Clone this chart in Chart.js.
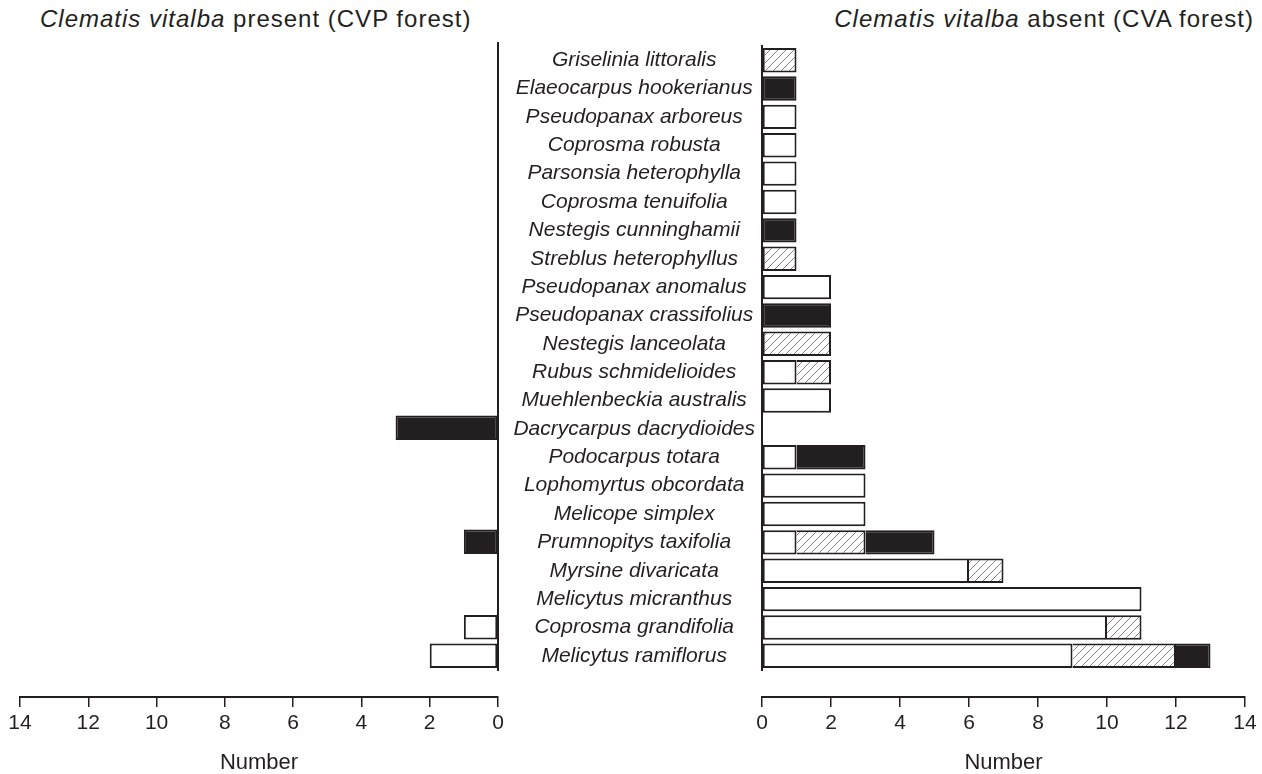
<!DOCTYPE html>
<html>
<head>
<meta charset="utf-8">
<script src="https://cdn.jsdelivr.net/npm/chart.js@4.4.1/dist/chart.umd.min.js"></script>
<style>
  body{ margin:0; background:#fff; width:1262px; height:774px; overflow:hidden; position:relative; font-family:"Liberation Sans", Arial, sans-serif; color:#231f20; }
  canvas{ position:absolute; top:0; }
  .ttl{ position:absolute; top:5px; font-size:24px; letter-spacing:1px; white-space:nowrap; line-height:28px; }
</style>
</head>
<body>
<div class="ttl" style="left:40px"><i>Clematis vitalba</i> present (CVP forest)</div>
<div class="ttl" style="right:8px"><i>Clematis vitalba</i> absent (CVA forest)</div>
<canvas id="cvpChart" width="520" height="774" style="left:0;width:520px;height:774px"></canvas>
<canvas id="cvaChart" width="762" height="774" style="left:500px;width:762px;height:774px"></canvas>
<script>
/* ========= DATA ========= */
const SPECIES = [
  "Griselinia littoralis","Elaeocarpus hookerianus","Pseudopanax arboreus","Coprosma robusta",
  "Parsonsia heterophylla","Coprosma tenuifolia","Nestegis cunninghamii","Streblus heterophyllus",
  "Pseudopanax anomalus","Pseudopanax crassifolius","Nestegis lanceolata","Rubus schmidelioides",
  "Muehlenbeckia australis","Dacrycarpus dacrydioides","Podocarpus totara","Lophomyrtus obcordata",
  "Melicope simplex","Prumnopitys taxifolia","Myrsine divaricata","Melicytus micranthus",
  "Coprosma grandifolia","Melicytus ramiflorus"
];

// CVP forest (left panel)
const cvpOpen    = [0,0,0,0,0,0,0,0,0,0,0,0,0,0,0,0,0,0,0,0,1,2];
const cvpHatched = [0,0,0,0,0,0,0,0,0,0,0,0,0,0,0,0,0,0,0,0,0,0];
const cvpSolid   = [0,0,0,0,0,0,0,0,0,0,0,0,0,3,0,0,0,1,0,0,0,0];

// CVA forest (right panel)
const cvaOpen    = [0,0,1,1,1,1,0,0,2,0,0,1,2,0,1,3,3,1,6,11,10,9];
const cvaHatched = [1,0,0,0,0,0,0,1,0,0,2,1,0,0,0,0,0,2,1,0,1,3];
const cvaSolid   = [0,1,0,0,0,0,1,0,0,2,0,0,0,0,2,0,0,2,0,0,0,1];

const X_MIN = 0, X_MAX = 14, X_STEP = 2;

/* ========= STYLE ========= */
const INK = "#231f20";
const FONT = "'Liberation Sans', Arial, sans-serif";

function hatchPattern(){
  const c = document.createElement("canvas");
  c.width = 8; c.height = 8;
  const g = c.getContext("2d");
  g.fillStyle = "#fff"; g.fillRect(0,0,8,8);
  g.strokeStyle = "#808080"; g.lineWidth = 1;
  g.beginPath();
  g.moveTo(0,8); g.lineTo(8,0);
  g.moveTo(-2,2); g.lineTo(2,-2);
  g.moveTo(6,10); g.lineTo(10,6);
  g.stroke();
  return g.createPattern(c,"repeat");
}
const HATCH = hatchPattern();

// where two segments of one bar meet, only the earlier one draws the divider
function segBorder(ctx){
  const i = ctx.dataIndex, d = ctx.datasetIndex;
  const before = ctx.chart.data.datasets.slice(0,d).some(ds=>ds.data[i]>0);
  return {top:2, bottom:2, left:before?0:2, right:2};
}

function datasets(open, hatched, solid){
  const base = {borderColor:INK, borderWidth:segBorder, borderSkipped:false,
                categoryPercentage:0.86, barPercentage:1};
  return [
    {...base, data:open,    backgroundColor:"#fff"},
    {...base, data:hatched, backgroundColor:HATCH},
    {...base, data:solid,   backgroundColor:INK}
  ];
}

function xScale(reverse){
  return {
    type:"linear", stacked:true, min:X_MIN, max:X_MAX, reverse, weight:1,
    ticks:{stepSize:X_STEP, color:INK, font:{family:FONT,size:21}, padding:4, maxRotation:0},
    grid:{drawOnChartArea:false, drawTicks:true, tickLength:10, color:INK, lineWidth:1.5},
    border:{display:true, color:INK, width:2},
    title:{display:true, text:"Number", color:INK, font:{family:FONT,size:22,lineHeight:1}, padding:{top:0,bottom:0}},
    afterFit:s=>{ s.height = 77; }
  };
}
// empty spacer between the bars and the number axis
const padScale = {
  type:"linear", position:"bottom", display:true, weight:0,
  grid:{display:false}, border:{display:false}, ticks:{display:false},
  afterFit:s=>{ s.height = 27; }
};

/* ========= CVP ========= */
new Chart(cvpChart,{
  type:"bar",
  data:{labels:SPECIES, datasets:datasets(cvpOpen,cvpHatched,cvpSolid)},
  options:{
    indexAxis:"y", responsive:false, animation:false, devicePixelRatio:1,
    layout:{padding:{top:43,left:20,right:22,bottom:0}},
    plugins:{legend:{display:false}, tooltip:{enabled:false}},
    scales:{
      x:xScale(true),
      pad:padScale,
      y:{
        position:"right", stacked:true, offset:true,
        grid:{display:false, drawTicks:false},
        ticks:{display:false},
        border:{display:true, color:INK, width:2},
        afterFit:s=>{ s.width = 0; }
      }
    }
  }
});

/* ========= CVA ========= */
new Chart(cvaChart,{
  type:"bar",
  data:{labels:SPECIES, datasets:datasets(cvaOpen,cvaHatched,cvaSolid)},
  options:{
    indexAxis:"y", responsive:false, animation:false, devicePixelRatio:1,
    layout:{padding:{top:46,left:0,right:17,bottom:0}},
    plugins:{legend:{display:false}, tooltip:{enabled:false}},
    scales:{
      x:xScale(false),
      pad:padScale,
      y:{
        position:"left", stacked:true, offset:true,
        grid:{display:false, drawTicks:false},
        ticks:{color:INK, font:{family:FONT,size:21,style:"italic"}, padding:7, crossAlign:"center", autoSkip:false},
        border:{display:true, color:INK, width:2},
        afterFit:s=>{ s.width = 262; }
      }
    }
  }
});
</script>
</body>
</html>
